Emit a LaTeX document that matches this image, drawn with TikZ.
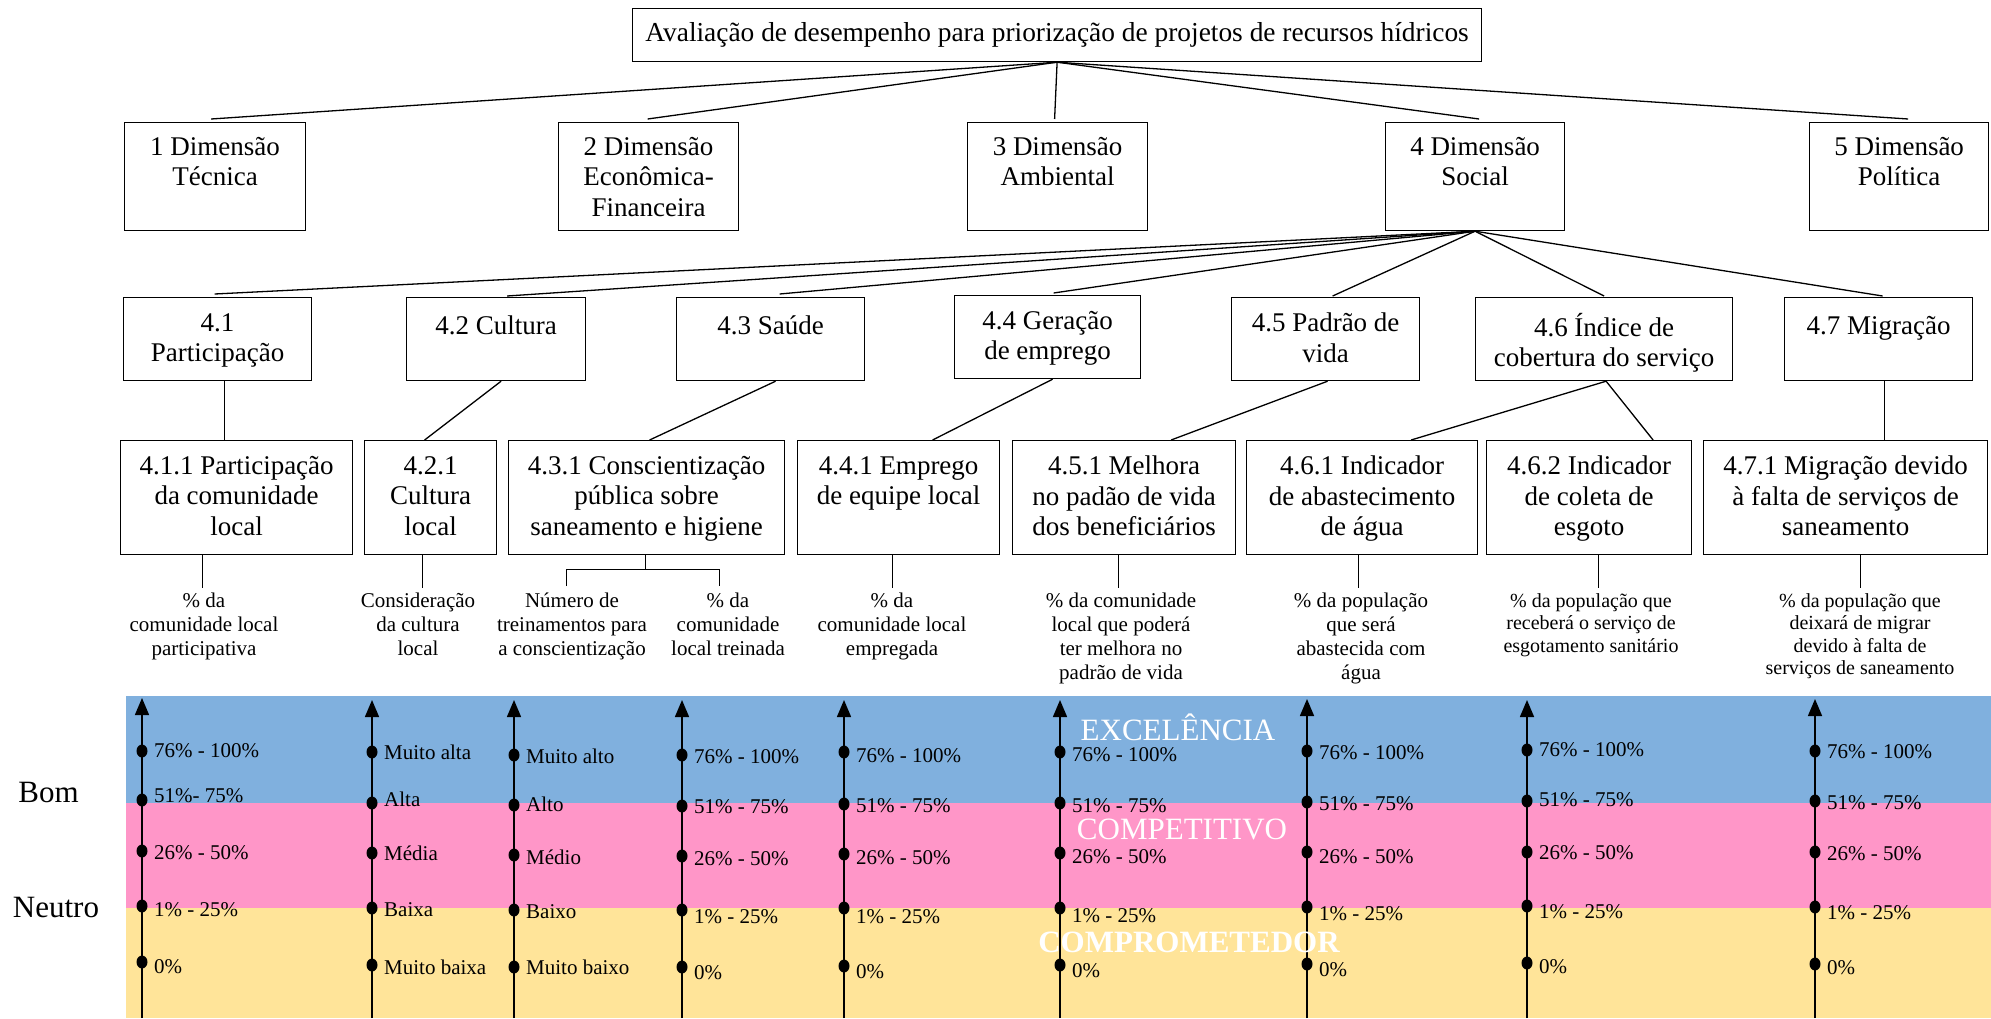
\documentclass[tikz,border=0pt]{standalone}
\usepackage{fontspec}
\setmainfont{Liberation Serif}
\usetikzlibrary{calc,arrows.meta}

\definecolor{bandblue}{RGB}{128,176,222}
\definecolor{bandpink}{RGB}{255,150,200}
\definecolor{bandyellow}{RGB}{255,228,153}

\newcommand\titlefont{\fontsize{27.4}{31}\selectfont}
\newcommand\boxfont{\fontsize{27}{30.5}\selectfont}
\newcommand\indfont{\fontsize{21}{24}\selectfont}
\newcommand\indsmallfont{\fontsize{20}{22.6}\selectfont}
\newcommand\lvlfont{\fontsize{21}{24}\selectfont}
\newcommand\bigfont{\fontsize{31}{36}\selectfont}

% one graded point on a scale axis: name, axis x, dot y, label y, text
\newcommand\tick[5]{%
  \fill (#2,#3) ellipse [x radius=5.5, y radius=6.5];
  \node[lvl] (#1) at (#2+12,#4) {#5};
}

\begin{document}
\begin{tikzpicture}[x=1pt,y=-1pt,
  box/.style={draw, line width=1.2pt, inner sep=0pt, anchor=north west},
  boxtext/.style={font=\boxfont, align=center, anchor=north, inner sep=0pt,
    execute at begin node=\strut},
  ind/.style={font=\indfont, align=center, anchor=north, inner sep=0pt,
    execute at begin node=\strut},
  indsmall/.style={ind, font=\indsmallfont},
  link/.style={line width=1.3pt},
  axisline/.style={line width=1.5pt, -{Triangle[length=17pt,width=14pt]}},
  lvl/.style={font=\lvlfont, anchor=west, inner sep=0pt},
  bandtitle/.style={font=\bigfont, text=white, inner sep=0pt},
  side/.style={font=\bigfont, inner sep=0pt}]

\useasboundingbox (0,0) rectangle (1991,1018);

% ---------- hierarchy boxes ----------
\node[box, minimum width=849, minimum height=53, font=\titlefont] (b0) at (632,8)
  {Avaliação de desempenho para priorização de projetos de recursos hídricos};

\node[box, minimum width=181, minimum height=108] (b1) at (124,122) {};
\node[box, minimum width=180, minimum height=108] (b2) at (558,122) {};
\node[box, minimum width=180, minimum height=108] (b3) at (967,122) {};
\node[box, minimum width=179, minimum height=108] (b4) at (1385,122) {};
\node[box, minimum width=179, minimum height=108] (b5) at (1809,122) {};
\node[boxtext] (t1) at ($(b1.north)+(0,15)$) {1 Dimensão\\Técnica};
\node[boxtext] (t2) at ($(b2.north)+(0,15)$) {2 Dimensão\\Econômica-\\Financeira};
\node[boxtext] (t3) at ($(b3.north)+(0,15)$) {3 Dimensão\\Ambiental};
\node[boxtext] (t4) at ($(b4.north)+(0,15)$) {4 Dimensão\\Social};
\node[boxtext] (t5) at ($(b5.north)+(0,15)$) {5 Dimensão\\Política};

\node[box, minimum width=188, minimum height=83] (b41) at (123,297) {};
\node[box, minimum width=179, minimum height=83] (b42) at (406,297) {};
\node[box, minimum width=188, minimum height=83] (b43) at (676,297) {};
\node[box, minimum width=186, minimum height=83] (b44) at (954,295) {};
\node[box, minimum width=188, minimum height=83] (b45) at (1231,297) {};
\node[box, minimum width=257, minimum height=83] (b46) at (1475,297) {};
\node[box, minimum width=188, minimum height=83] (b47) at (1784,297) {};
\node[boxtext] (t41) at ($(b41.north)+(0,16)$) {4.1\\Participação};
\node[boxtext] (t42) at ($(b42.north)+(0,16)$) {4.2 Cultura};
\node[boxtext] (t43) at ($(b43.north)+(0,16)$) {4.3 Saúde};
\node[boxtext] (t44) at ($(b44.north)+(0,16)$) {4.4 Geração\\de emprego};
\node[boxtext] (t45) at ($(b45.north)+(0,16)$) {4.5 Padrão de\\vida};
\node[boxtext] (t46) at ($(b46.north)+(0,16)$) {4.6 Índice de\\cobertura do serviço};
\node[boxtext] (t47) at ($(b47.north)+(0,16)$) {4.7 Migração};

\node[box, minimum width=232, minimum height=114] (b411) at (120,440) {};
\node[box, minimum width=132, minimum height=114] (b421) at (364,440) {};
\node[box, minimum width=276, minimum height=114] (b431) at (508,440) {};
\node[box, minimum width=202, minimum height=114] (b441) at (797,440) {};
\node[box, minimum width=223, minimum height=114] (b451) at (1012,440) {};
\node[box, minimum width=231, minimum height=114] (b461) at (1246,440) {};
\node[box, minimum width=205, minimum height=114] (b462) at (1486,440) {};
\node[box, minimum width=284, minimum height=114] (b471) at (1703,440) {};
\node[boxtext] (t411) at ($(b411.north)+(0,16)$) {4.1.1 Participação\\da comunidade\\local};
\node[boxtext] (t421) at ($(b421.north)+(0,16)$) {4.2.1\\Cultura\\local};
\node[boxtext] (t431) at ($(b431.north)+(0,16)$) {4.3.1 Conscientização\\pública sobre\\saneamento e higiene};
\node[boxtext] (t441) at ($(b441.north)+(0,16)$) {4.4.1 Emprego\\de equipe local};
\node[boxtext] (t451) at ($(b451.north)+(0,16)$) {4.5.1 Melhora\\no padão de vida\\dos beneficiários};
\node[boxtext] (t461) at ($(b461.north)+(0,16)$) {4.6.1 Indicador\\de abastecimento\\de água};
\node[boxtext] (t462) at ($(b462.north)+(0,16)$) {4.6.2 Indicador\\de coleta de\\esgoto};
\node[boxtext] (t471) at ($(b471.north)+(0,16)$) {4.7.1 Migração devido\\à falta de serviços de\\saneamento};

% ---------- connectors ----------
\draw[link] (b0.south) -- ($(b1.north)+(-4,-3)$);
\draw[link] (b0.south) -- ($(b2.north)+(-1,-3)$);
\draw[link] (b0.south) -- ($(b3.north)+(-3,-3)$);
\draw[link] (b0.south) -- ($(b4.north)+(4,-3)$);
\draw[link] (b0.south) -- ($(b5.north)+(9,-3)$);

\draw[link] (b4.south) -- ($(b41.north)+(-3,-3)$);
\draw[link] (b4.south) -- ($(b42.north)+(11,-1)$);
\draw[link] (b4.south) -- ($(b43.north)+(9,-3)$);
\draw[link] (b4.south) -- ($(b44.north)+(6,-2)$);
\draw[link] (b4.south) -- ($(b45.north)+(7,-1)$);
\draw[link] (b4.south) -- ($(b46.north)+(0,-1)$);
\draw[link] (b4.south) -- ($(b47.north)+(4,-1)$);

\coordinate (c41) at ($(b41.south)+(7,0)$);
\coordinate (c47) at ($(b47.south)+(6,0)$);
\draw[link] (c41) -- (c41 |- b411.north);
\draw[link] ($(b42.south)+(5,0)$) -- ($(b421.north)+(-6,0)$);
\draw[link] ($(b43.south)+(5,0)$) -- ($(b431.north)+(3,0)$);
\draw[link] ($(b44.south)+(5,0)$) -- ($(b441.north)+(34,0)$);
\draw[link] ($(b45.south)+(2,0)$) -- ($(b451.north)+(47,0)$);
\draw[link] ($(b46.south)+(2,0)$) -- ($(b461.north)+(49,0)$);
\draw[link] ($(b46.south)+(2,0)$) -- ($(b462.north)+(64,0)$);
\draw[link] (c47) -- (c47 |- b471.north);

% ---------- indicator leads ----------
\coordinate (i411) at (202.5,588);
\coordinate (i421) at (422,588);
\coordinate (j431) at (645,569);
\coordinate (i431a) at (566,586);
\coordinate (i431b) at (719,586);
\coordinate (i441) at (892,588);
\coordinate (i451) at (1118.5,588);
\coordinate (i461) at (1358,588);
\coordinate (i462) at (1598,588);
\coordinate (i471) at (1860,588);
\draw (i411 |- b411.south) -- (i411);
\draw (i421 |- b421.south) -- (i421);
\draw (j431 |- b431.south) -- (j431);
\draw (i431a) |- (j431) -| (i431b);
\draw (i441 |- b441.south) -- (i441);
\draw (i451 |- b451.south) -- (i451);
\draw (i461 |- b461.south) -- (i461);
\draw (i462 |- b462.south) -- (i462);
\draw (i471 |- b471.south) -- (i471);

% ---------- indicator texts ----------
\node[ind] (n411) at (204,593) {\% da\\comunidade local\\participativa};
\node[ind] (n421) at (418,593) {Consideração\\da cultura\\local};
\node[ind] (n431a) at (572,593) {Número de\\treinamentos para\\a conscientização};
\node[ind] (n431b) at (728,593) {\% da\\comunidade\\local treinada};
\node[ind] (n441) at (892,593) {\% da\\comunidade local\\empregada};
\node[ind] (n451) at (1121,593) {\% da comunidade\\local que poderá\\ter melhora no\\padrão de vida};
\begin{scope}
  \clip (1240,580) rectangle (1480,684);
  \node[ind] (n461) at (1361,593) {\% da população\\que será\\abastecida com\\água};
\end{scope}
\node[indsmall] (n462) at (1591,593) {\% da população que\\receberá o serviço de\\esgotamento sanitário};
\node[indsmall] (n471) at (1860,593) {\% da população que\\deixará de migrar\\devido à falta de\\serviços de saneamento};

% ---------- rating bands ----------
\fill[bandblue] (126,696) rectangle (1991,803);
\fill[bandpink] (126,803) rectangle (1991,908);
\fill[bandyellow] (126,908) rectangle (1991,1018);

\node[side] (bom) at (48.5,792) {Bom};
\node[side] (neutro) at (56,907) {Neutro};

% ---------- scale axes ----------
\foreach \n/\x/\t in {1/142/698, 2/372/700, 3/514/700, 4/682/700, 5/844/700,
                      6/1060/700, 7/1307/699, 8/1527/700, 9/1815/699} {
  \coordinate (a\n b) at (\x,1018);
  \coordinate (a\n t) at (\x,\t);
  \draw[axisline] (a\n b) -- (a\n t);
}

\tick{l1a}{142}{751}{751}{76\% - 100\%}
\tick{l1b}{142}{800}{796}{51\%- 75\%}
\tick{l1c}{142}{851}{853}{26\% - 50\%}
\tick{l1d}{142}{906}{910}{1\% - 25\%}
\tick{l1e}{142}{962}{967}{0\%}

\tick{l2a}{372}{752}{752}{Muito alta}
\tick{l2b}{372}{803}{799}{Alta}
\tick{l2c}{372}{853}{853}{Média}
\tick{l2d}{372}{908}{910}{Baixa}
\tick{l2e}{372}{965}{967}{Muito baixa}

\tick{l3a}{514}{755}{756}{Muito alto}
\tick{l3b}{514}{805}{804}{Alto}
\tick{l3c}{514}{855}{857}{Médio}
\tick{l3d}{514}{910}{912}{Baixo}
\tick{l3e}{514}{967}{967}{Muito baixo}

\tick{l4a}{682}{755}{757}{76\% - 100\%}
\tick{l4b}{682}{806}{807}{51\% - 75\%}
\tick{l4c}{682}{856}{859}{26\% - 50\%}
\tick{l4d}{682}{910}{917}{1\% - 25\%}
\tick{l4e}{682}{967}{973}{0\%}

\tick{l5a}{844}{752}{756}{76\% - 100\%}
\tick{l5b}{844}{804}{806}{51\% - 75\%}
\tick{l5c}{844}{854}{858}{26\% - 50\%}
\tick{l5d}{844}{908}{917}{1\% - 25\%}
\tick{l5e}{844}{966}{972}{0\%}

\tick{l6a}{1060}{752}{755}{76\% - 100\%}
\tick{l6b}{1060}{803}{806}{51\% - 75\%}
\tick{l6c}{1060}{853}{857}{26\% - 50\%}
\tick{l6d}{1060}{908}{916}{1\% - 25\%}
\tick{l6e}{1060}{965}{971}{0\%}

\tick{l7a}{1307}{751}{753}{76\% - 100\%}
\tick{l7b}{1307}{802}{804}{51\% - 75\%}
\tick{l7c}{1307}{852}{857}{26\% - 50\%}
\tick{l7d}{1307}{907}{914}{1\% - 25\%}
\tick{l7e}{1307}{964}{970}{0\%}

\tick{l8a}{1527}{750}{750}{76\% - 100\%}
\tick{l8b}{1527}{801}{800}{51\% - 75\%}
\tick{l8c}{1527}{852}{853}{26\% - 50\%}
\tick{l8d}{1527}{906}{912}{1\% - 25\%}
\tick{l8e}{1527}{963}{967}{0\%}

\tick{l9a}{1815}{751}{752}{76\% - 100\%}
\tick{l9b}{1815}{801}{803}{51\% - 75\%}
\tick{l9c}{1815}{852}{854}{26\% - 50\%}
\tick{l9d}{1815}{907}{913}{1\% - 25\%}
\tick{l9e}{1815}{964}{968}{0\%}

% ---------- band names ----------
\node[bandtitle] (exc) at (1178,727) {EXCELÊNCIA};
\node[bandtitle] (comp) at (1182,829) {COMPETITIVO};
\node[bandtitle, font=\bigfont\bfseries] (compr) at (1189,942) {COMPROMETEDOR};

\end{tikzpicture}
\end{document}
